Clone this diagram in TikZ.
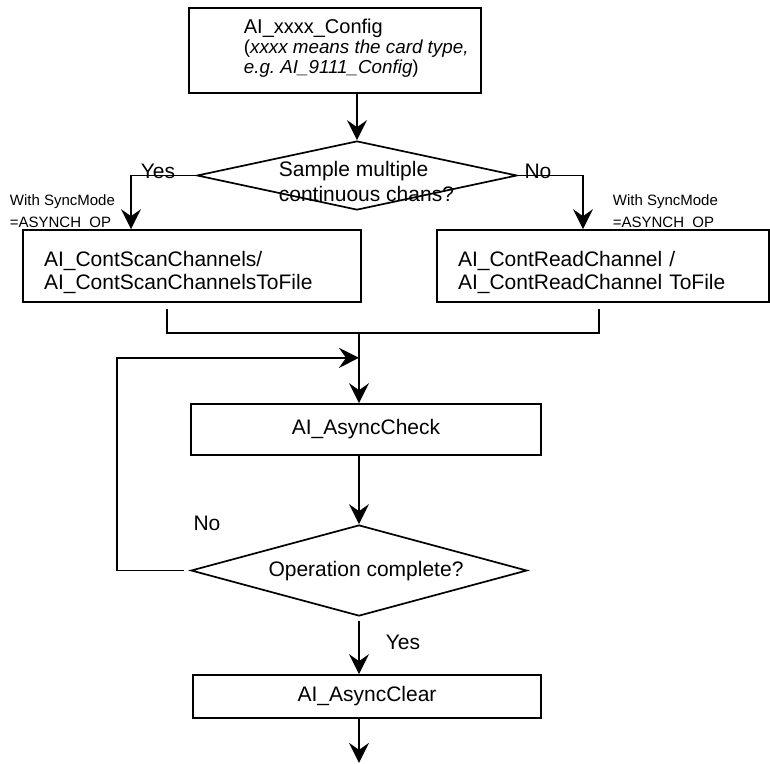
\documentclass[tikz,border=0pt]{standalone}
\usepackage{fontspec}
\setmainfont{Liberation Sans}
\usetikzlibrary{shapes.geometric,arrows.meta}

\begin{document}
\begin{tikzpicture}[x=1pt, y=-1pt, line width=1.7pt, font=\fontsize{21}{23}\selectfont]
\tikzstyle{boxr}=[rectangle, draw=black, line width=1.7pt, inner sep=0pt]
\tikzstyle{boxl}=[boxr, align=left, inner xsep=21pt]
\tikzstyle{decision}=[diamond, draw=black, line width=1.7pt, inner sep=0pt]
\tikzstyle{drawstyle}=[line width=1.7pt, -{Stealth[length=20pt, width=20pt, inset=7pt]}]
\tikzstyle{linestyle}=[line width=1.7pt]
\tikzstyle{note}=[inner sep=0pt, anchor=west, align=left, font=\fontsize{15}{22}\selectfont]
\tikzstyle{answer}=[inner sep=0pt]

\useasboundingbox (0,0) rectangle (770,763);

\node[boxr, minimum width=292pt, minimum height=85pt] (cfg) at (335,50.5) {};
\node[anchor=west, align=left, inner sep=0pt, font=\fontsize{20}{20}\selectfont] (cfgtxt) at (243,48) {AI\_xxxx\_Config\\\fontsize{18.8}{20}\selectfont(\textit{xxxx means the card type,}\\\fontsize{18.8}{20}\selectfont\textit{e.g.\ AI\_9111\_Config})};
\node[decision, minimum width=320pt, minimum height=69pt] (dec1) at (357,175.5) {};
\node[anchor=west, align=left, inner sep=0pt, font=\fontsize{21}{25}\selectfont] (dec1txt) at (278,181) {Sample multiple\\continuous chans?};
\node[answer] (yes1) at (158,171) {Yes};
\node[answer] (no1) at (538,171) {No};
\node[note] (note1) at (9,213) {With SyncMode\\=ASYNCH\_OP};
\node[note] (note2) at (612,213) {With SyncMode\\=ASYNCH\_OP};
\node[boxl, text width=296pt, minimum height=72pt] (scan) at (192,266) {\rule{0pt}{29pt}AI\_ContScanChannels/\\AI\_ContScanChannelsToFile};
\node[boxl, text width=290pt, minimum height=72pt] (read) at (603,266) {\rule{0pt}{29pt}AI\_ContReadChannel /\\AI\_ContReadChannel ToFile};
\node[boxr, minimum width=350pt, minimum height=51pt] (check) at (366,429.5) {AI\_AsyncCheck};
\node[decision, minimum width=336pt, minimum height=91pt] (dec2) at (359,570.5) {};
\node[inner sep=0pt] (dec2txt) at (366,571) {Operation complete?};
\node[answer] (no2) at (207,523) {No};
\node[answer] (yes2) at (403,642) {Yes};
\node[boxr, minimum width=348pt, minimum height=43pt] (clear) at (367,696.5) {AI\_AsyncClear};

\coordinate (merge) at ([yshift=-30pt]scan.south -| dec2.north);
\coordinate (loop) at ([yshift=-25pt]merge);
\coordinate (exit) at ([yshift=-44pt]clear.south -| dec2.south);

\draw[drawstyle] (dec1.north |- cfg.south) -- (dec1.north);
\draw[drawstyle] (dec1.west) -| ([xshift=-61pt]scan.north);
\draw[drawstyle] (dec1.east) -| ([xshift=-20pt]read.north);
\draw[linestyle] ([xshift=-25pt, yshift=-6pt]scan.south) |- (merge) -| ([xshift=-4pt, yshift=-6pt]read.south);
\draw[drawstyle] (merge) -- (merge |- check.north);
\draw[drawstyle] (dec2.north |- check.south) -- (dec2.north);
\draw[drawstyle] ([xshift=-6pt]dec2.west) -- ++(-67,0) |- (loop);
\draw[drawstyle] ([yshift=-4pt]dec2.south) -- (dec2.south |- clear.north);
\draw[drawstyle] (dec2.south |- clear.south) -- (exit);
\end{tikzpicture}
\end{document}
